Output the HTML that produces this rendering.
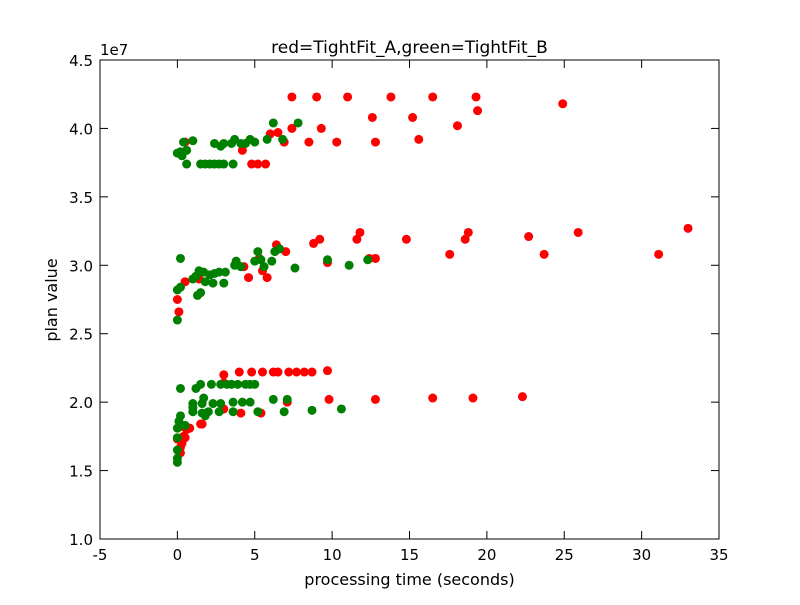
<!DOCTYPE html>
<html><head><meta charset="utf-8"><style>
body{margin:0;background:#fff;}
svg text{font-family:"DejaVu Sans","Liberation Sans",sans-serif;fill:#000;}
</style></head><body>
<svg id="chart" width="800" height="600" xmlns="http://www.w3.org/2000/svg">
<rect x="0" y="0" width="800" height="600" fill="#fff"/>
<g id="marks"></g>
<rect x="100" y="60" width="619" height="479" fill="none" stroke="#000" stroke-width="1"/>
<g id="axes"></g>
<text x="409.5" y="53" font-size="17" text-anchor="middle">red=TightFit_A,green=TightFit_B</text>
<text x="409.5" y="585" font-size="16" text-anchor="middle">processing time (seconds)</text>
<text x="57" y="300" font-size="16" text-anchor="middle" transform="rotate(-90 57 300)">plan value</text>
<text x="100" y="55" font-size="15">1e7</text>
</svg>
<script>
const xTicks=[-5,0,5,10,15,20,25,30,35];
const yTicks=[1.0,1.5,2.0,2.5,3.0,3.5,4.0,4.5];
const redX=[7.4,9,11,13.8,16.5,19.3,24.9,19.4,12.6,15.2,18.1,7.4,9.3,6,6.5,8.5,10.3,12.8,15.6,6.9,4.2,4.8,5.2,5.7,0.5,
0,0.1,0.5,4.3,4.6,5.3,5.5,5.8,6.4,7,8.8,9.2,9.7,11.6,11.8,12.4,12.8,14.8,17.6,18.6,18.8,22.7,23.7,25.9,31.1,33,1.4,
0,0.2,0.3,0.2,0.4,0.5,0.4,0.6,0.8,1.5,1.6,3,4,4.8,5.5,6.2,6.5,7.2,7.7,8.2,8.7,9.7,3,4.1,5.4,7.1,9.8,12.8,16.5,19.1,22.3,3];
const redY=[42.3,42.3,42.3,42.3,42.3,42.3,41.8,41.3,40.8,40.8,40.2,40,40,39.6,39.7,39,39,39,39.2,39,38.4,37.4,37.4,37.4,39,
27.5,26.6,28.8,29.9,29.1,30.5,29.6,29.1,31.5,31,31.6,31.9,30.2,31.9,32.4,30.5,30.5,31.9,30.8,31.9,32.4,32.1,30.8,32.4,30.8,32.7,29,
17.3,16.7,17,16.3,17.5,17.4,18.2,18,18.1,18.4,18.4,22,22.2,22.2,22.2,22.2,22.2,22.2,22.2,22.2,22.2,22.3,19.5,19.2,19.2,20,20.2,20.2,20.3,20.3,20.4,21.4];
const greenX=[0.2,0.3,0.4,0.6,0.6,1,1.5,1.8,2.1,2.4,2.7,3,3.6,2.4,2.8,3,3.5,3.7,4.1,4.4,4.7,5,6.2,7.8,5.8,6.8,0,
0.2,0,0.2,0,1,1.2,1.3,1.5,1.4,1.7,2.1,2.4,2.7,3.1,1.8,2.3,3,3.7,3.8,4.1,5,5.2,5.6,6.1,6.3,7.6,9.7,11.1,12.3,6.6,5.4,
0,0,0,0,0,0.1,0.2,0.2,0.5,1,1,1,1.2,1.5,1.6,1.6,1.7,1.8,2.3,2.2,2.8,2.8,3.2,3.5,3.6,3.9,4.4,4.7,5,5.2,2.7,3.6,4.2,4.7,6.2,6.9,7.1,8.7,10.6,2];
const greenY=[38.3,38,39,38.4,37.4,39.1,37.4,37.4,37.4,37.4,37.4,37.4,37.4,38.9,38.7,38.9,38.9,39.2,38.9,38.9,39.2,39,40.4,40.4,39.2,39.2,38.2,
30.5,28.2,28.4,26,29,29.2,27.8,28,29.6,29.5,29.3,29.4,29.5,29.5,28.8,28.7,28.7,30,30.3,29.9,30.3,31,29.9,30.3,31,29.8,30.4,30,30.4,31.2,30.4,
15.6,15.9,16.5,17.4,18.1,18.6,19,21,18.3,19.3,19.6,19.9,21,21.3,19.2,19.9,20.3,19,19.9,21.3,21.3,19.9,21.3,21.3,20,21.3,21.3,21.3,21.3,19.3,19.3,19.3,20,20,20.2,19.3,20.2,19.4,19.5,19.3];
const NS='http://www.w3.org/2000/svg';
const sx=v=>100+(v+5)/40*619;
const sy=v=>539-(v/10-1)/3.5*479;
const sy7=v=>539-(v-1)/3.5*479;
const axes=document.getElementById('axes'),marks=document.getElementById('marks');
function mk(tag,attrs,parent){const e=document.createElementNS(NS,tag);for(const k in attrs)e.setAttribute(k,attrs[k]);parent.appendChild(e);return e;}
xTicks.forEach(t=>{const x=sx(t);
 const a=mk('line',{x1:x,x2:x,y1:539,y2:531,stroke:'#000'},axes);
 
 
 const b=mk('line',{x1:x,x2:x,y1:60,y2:68,stroke:'#000'},axes);
 
 
 const l=mk('text',{x:x,y:560,'font-size':15,'text-anchor':'middle'},axes);l.textContent=t;
 
 
});
yTicks.forEach(t=>{const y=sy7(t);
 const a=mk('line',{x1:100,x2:108,y1:y,y2:y,stroke:'#000'},axes);
 
 
 const b=mk('line',{x1:711,x2:719,y1:y,y2:y,stroke:'#000'},axes);
 
 
 const l=mk('text',{x:93,y:y+6,'font-size':15,'text-anchor':'end'},axes);l.textContent=t.toFixed(1);
 
 
});
redX.forEach((v,i)=>{const c=mk('circle',{cx:sx(v),cy:sy(redY[i]),r:4.5,fill:'#ff0000'},marks);
 
 });
greenX.forEach((v,i)=>{const c=mk('circle',{cx:sx(v),cy:sy(greenY[i]),r:4.5,fill:'#008000'},marks);
 
 });
</script>
</body></html>
